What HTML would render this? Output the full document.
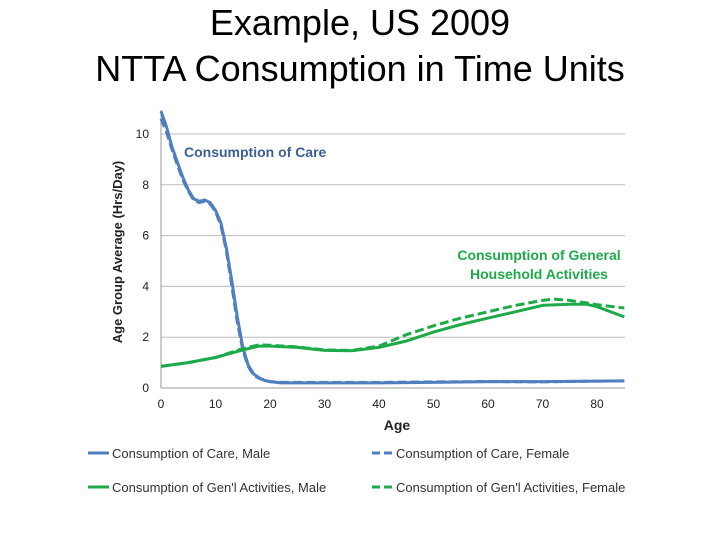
<!DOCTYPE html>
<html><head><meta charset="utf-8"><style>
body{margin:0;background:#fff;width:720px;height:540px;overflow:hidden;font-family:"Liberation Sans",sans-serif}
.t{position:absolute;left:0;width:720px;text-align:center;font-size:36px;color:#000}
</style></head><body>
<div class="t" style="top:0px;line-height:46px">Example, US 2009<br>NTTA Consumption in Time Units</div>
<svg id="c" width="720" height="540" style="position:absolute;left:0;top:0"></svg>
<script>
const ages=[0,1,2,3,4,5,6,7,8,9,10,11,12,13,14,15,16,17,18,19,20,22,25,30,40,50,60,70,80,85];
const careMale=[10.9,10.3,9.5,8.9,8.3,7.8,7.45,7.35,7.4,7.3,7.0,6.5,5.5,4.2,2.8,1.6,0.9,0.55,0.4,0.3,0.25,0.2,0.2,0.2,0.2,0.22,0.25,0.25,0.27,0.28];
const careFemale=[10.6,10.1,9.4,8.8,8.2,7.75,7.4,7.3,7.35,7.25,6.95,6.4,5.4,4.0,2.6,1.5,0.85,0.5,0.38,0.3,0.25,0.22,0.22,0.22,0.22,0.24,0.25,0.24,0.27,0.28];
const genAges=[0,5,10,15,18,20,25,30,35,40,45,50,55,60,65,70,72,75,78,80,85];
const genMale=[0.85,1.0,1.2,1.5,1.65,1.65,1.6,1.48,1.47,1.6,1.85,2.2,2.5,2.75,3.0,3.25,3.27,3.3,3.3,3.2,2.8];
const genFemale=[0.85,1.0,1.2,1.55,1.7,1.68,1.62,1.5,1.48,1.65,2.1,2.45,2.75,3.0,3.25,3.45,3.5,3.45,3.35,3.28,3.15];
const yTicks=[0,2,4,6,8,10];
const xTicks=[0,10,20,30,40,50,60,70,80];
const X=a=>161+a*5.45, Y=v=>388-v*25.4;
const s=document.getElementById('c');let h='';
yTicks.forEach(v=>{ if(v>0) h+=`<line x1="161" x2="625" y1="${Y(v)}" y2="${Y(v)}" stroke="#bdbdbd" stroke-width="1"/>`;
h+=`<text x="149" y="${Y(v)+4}" font-size="12" text-anchor="end" fill="#222">${v}</text>`;});
h+=`<line x1="161" x2="625" y1="388" y2="388" stroke="#999"/><line x1="161" x2="161" y1="110" y2="388" stroke="#999"/>`;
xTicks.forEach(v=>{h+=`<text x="${X(v)}" y="408" font-size="12" text-anchor="middle" fill="#222">${v}</text>`;});
h+=`<text x="397" y="430" font-size="14" font-weight="bold" text-anchor="middle" fill="#222">Age</text>`;
h+=`<text transform="translate(122,252) rotate(-90)" font-size="13" font-weight="bold" text-anchor="middle" fill="#222">Age Group Average (Hrs/Day)</text>`;
const path=(xs,ys)=>xs.map((a,i)=>(i?'L':'M')+X(a).toFixed(1)+','+Y(ys[i]).toFixed(1)).join('');
h+=`<path d="${path(ages,careFemale)}" fill="none" stroke="#4f7fbf" stroke-width="3" stroke-dasharray="9,4"/>`;
h+=`<path d="${path(ages,careMale)}" fill="none" stroke="#4f7fbf" stroke-width="3"/>`;
h+=`<path d="${path(genAges,genFemale)}" fill="none" stroke="#1faa4a" stroke-width="3" stroke-dasharray="9,4"/>`;
h+=`<path d="${path(genAges,genMale)}" fill="none" stroke="#1faa4a" stroke-width="3"/>`;
h+=`<text x="184" y="157" font-size="14" font-weight="bold" fill="#3d5f95">Consumption of Care</text>`;
h+=`<text x="539" y="260" font-size="14" font-weight="bold" fill="#1faa4a" text-anchor="middle">Consumption of General</text>`;
h+=`<text x="539" y="279" font-size="14" font-weight="bold" fill="#1faa4a" text-anchor="middle">Household Activities</text>`;
const leg=[[88,453,'#4f7fbf','','Consumption of Care, Male'],[372,453,'#4f7fbf','8,4','Consumption of Care, Female'],[88,487,'#1faa4a','','Consumption of Gen\'l Activities, Male'],[372,487,'#1faa4a','8,4','Consumption of Gen\'l Activities, Female']];
leg.forEach((l,i)=>{h+=`<g><line x1="${l[0]}" x2="${l[0]+21}" y1="${l[1]}" y2="${l[1]}" stroke="${l[2]}" stroke-width="3" stroke-dasharray="${l[3]}"/><text x="${l[0]+24}" y="${l[1]+5}" font-size="13" fill="#333">${l[4]}</text></g>`;});
s.innerHTML=h;
</script>
</body></html>
